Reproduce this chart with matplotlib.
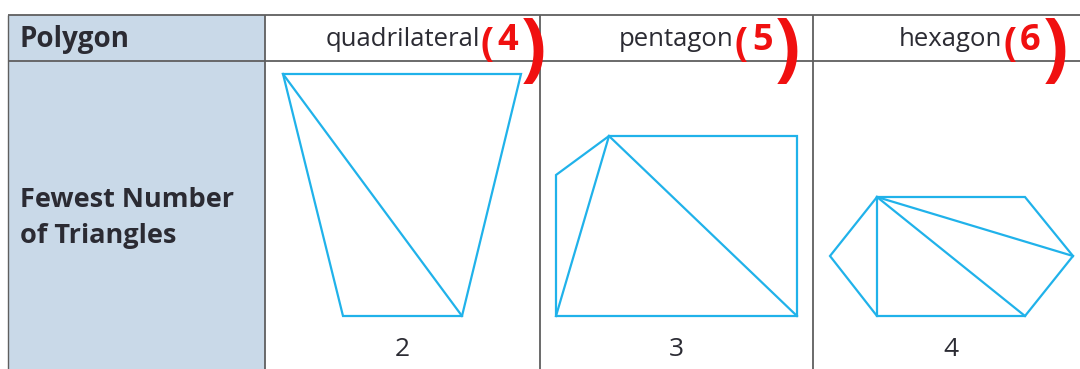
import matplotlib
matplotlib.use("Agg")
import matplotlib.pyplot as plt
from matplotlib.patches import Rectangle, Polygon

# ---- data ----
row_header = "Polygon"
row_label = ["Fewest Number", "of Triangles"]
polygon_names = ["quadrilateral", "pentagon", "hexagon"]
side_counts = ["4", "5", "6"]
fewest_triangles = ["2", "3", "4"]

# polygon outlines (vertex coordinates of each drawn shape, in image units)
quad_vertices = [(283, 74), (521, 74), (462, 316), (343, 316)]
quad_diagonals = [((283, 74), (462, 316))]
pent_vertices = [(556, 175), (609, 136), (797, 136), (797, 316), (556, 316)]
pent_diagonals = [((609, 136), (556, 316)), ((609, 136), (797, 316))]
hex_vertices = [(830, 256), (877, 197), (1025, 197), (1073, 256), (1025, 316), (877, 316)]
hex_diagonals = [((877, 197), (877, 316)), ((877, 197), (1025, 316)), ((877, 197), (1073, 256))]

shapes = [(quad_vertices, quad_diagonals),
          (pent_vertices, pent_diagonals),
          (hex_vertices, hex_diagonals)]

# ---- layout ----
W, H = 1080, 369
col_edges = [8, 265, 540, 813, 1088]
table_top, header_bottom = 15, 61

fig = plt.figure(figsize=(W / 100, H / 100), dpi=100)
ax = fig.add_axes([0, 0, 1, 1])
ax.set_xlim(0, W)
ax.set_ylim(H, 0)
ax.axis("off")

grid_col = "#5f5f5f"
shape_col = "#20B2EA"
text_col = "#2b2b33"
fill_col = "#C9D9E8"
red = "#F01010"
font = ["Open Sans", "DejaVu Sans"]

ax.add_patch(Rectangle((col_edges[0], table_top), col_edges[1] - col_edges[0], H - table_top,
                       facecolor=fill_col, edgecolor="none", zorder=0))
# horizontal lines
for y in (table_top, header_bottom):
    ax.plot([col_edges[0], W], [y, y], color=grid_col, lw=1.3, solid_capstyle="butt", zorder=2)
# vertical lines
for x in col_edges[:4]:
    ax.plot([x, x], [table_top, H], color=grid_col, lw=1.3 if x != col_edges[0] else 1.0,
            solid_capstyle="butt", zorder=2)

ax.text(20, 40, row_header, fontsize=20, fontweight="bold", color=text_col,
        family=font, va="center", ha="left")
ax.text(20, 200, row_label[0], fontsize=19.5, fontweight="bold", color=text_col,
        family=font, va="center", ha="left")
ax.text(20, 236, row_label[1], fontsize=19.5, fontweight="bold", color=text_col,
        family=font, va="center", ha="left")

for i, (name, n_sides, n_tri) in enumerate(zip(polygon_names, side_counts, fewest_triangles)):
    cx = (col_edges[i + 1] + col_edges[i + 2]) / 2
    t = ax.text(cx, 39, name, fontsize=18.5, color=text_col, family=font,
                va="center", ha="center")
    ax.text(cx, 350, n_tri, fontsize=19, color=text_col, family=font,
            va="center", ha="center")
    # handwritten side counts in red
    fig.canvas.draw()
    bb = t.get_window_extent().transformed(ax.transData.inverted())
    xr = max(bb.x0, bb.x1)
    ax.text(xr + 1, 44, "(", fontsize=28, color=red, family=font,
            va="center", ha="left", fontweight="bold")
    ax.text(xr + 18, 41, n_sides, fontsize=26, color=red, family=font,
            va="center", ha="left", fontweight="bold")
    ax.text(xr + 41, 52, ")", fontsize=54, color=red, family=font,
            va="center", ha="left", fontweight="bold")

for verts, diags in shapes:
    ax.add_patch(Polygon(verts, closed=True, fill=False, edgecolor=shape_col,
                         lw=1.6, joinstyle="miter", zorder=3))
    for (x0, y0), (x1, y1) in diags:
        ax.plot([x0, x1], [y0, y1], color=shape_col, lw=1.6, zorder=3)

fig.savefig("out.png", dpi=100, facecolor="white")
